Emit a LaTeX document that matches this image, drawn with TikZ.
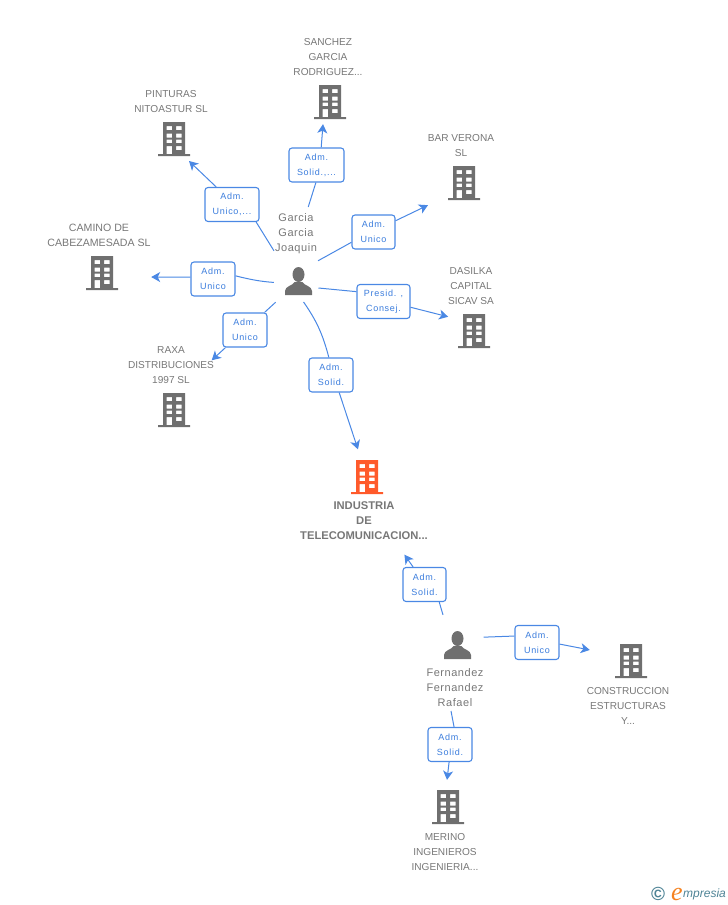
\documentclass[tikz,border=0pt]{standalone}
\usepackage{fontspec}
\setmainfont{Liberation Sans}
\newfontfamily\boxfont[LetterSpace=8]{Liberation Sans}
\newfontfamily\personfont[LetterSpace=5]{Liberation Sans}
\newfontfamily\logofont{Liberation Serif}
\usetikzlibrary{arrows.meta}
\definecolor{linkblue}{HTML}{4A88E4}
\definecolor{boxtext}{HTML}{3B7DDD}
\definecolor{icongray}{HTML}{6F6F6F}
\definecolor{textgray}{HTML}{777777}
\definecolor{iconred}{HTML}{FF5A2B}
\definecolor{logoteal}{HTML}{4F8496}
\definecolor{logoorange}{HTML}{F58220}
\tikzset{
  building/.style={inner sep=0pt, minimum width=32, minimum height=34, path picture={
    \fill[#1, even odd rule, shift={(path picture bounding box.center)}]
      (-11,-17) rectangle (11,15) (-16,15) rectangle (16,17)
      (-7.5,-13) rectangle (-2,-9) (2,-13) rectangle (7.5,-9)
      (-7.5,-5.5) rectangle (-2,-1.5) (2,-5.5) rectangle (7.5,-1.5)
      (-7.5,0.5) rectangle (-2,4) (2,0.5) rectangle (7.5,4)
      (-7.5,7) rectangle (-2,15) (2,7) rectangle (7.5,11);
  }},
  person/.style={circle, inner sep=0pt, minimum size=40, path picture={
    \fill[icongray, shift={(path picture bounding box.center)}]
      (0,-6.5) ellipse [x radius=6, y radius=7.5]
      (-13.5,14) -- (-13.5,10) .. controls (-13.5,5) and (-6,5) .. (-4,1) -- (4,1)
      .. controls (6,5) and (13.5,5) .. (13.5,10) -- (13.5,14) -- cycle;
  }},
  roleb/.style={draw=linkblue, line width=1.1pt, fill=white, rounded corners=3, inner sep=0pt,
    minimum height=34, minimum width=#1, align=center, text=boxtext,
    font=\boxfont\fontsize{9}{15}\selectfont},
  namel/.style={inner sep=0pt, align=center, text=textgray, font=\fontsize{10.1}{15}\selectfont},
  personl/.style={inner sep=0pt, align=center, text=textgray, font=\personfont\fontsize{11}{15}\selectfont},
  link/.style={draw=linkblue, line width=1pt},
  linkto/.style={link, -{Stealth[length=9, width=10, inset=2.5]}, shorten >=#1},
}
\begin{document}
\begin{tikzpicture}[x=1pt, y=-1pt]
    \useasboundingbox (0,0) rectangle (728,905);

    \node[person] (garcia) at (298.5,281) {};
    \node[person] (fernandez) at (457.5,645) {};
    \node[personl] (garcianame) at (296,234) {Garcia\\Garcia\\Joaquin};
    \node[personl] (fernandezname) at (455,688) {Fernandez\\Fernandez\\Rafael};

    \node[building=icongray] (sanchez) at (330,102) {};
    \node[building=icongray] (pinturas) at (174,139) {};
    \node[building=icongray] (verona) at (464,183) {};
    \node[building=icongray] (camino) at (102,273) {};
    \node[building=icongray] (dasilka) at (474,331) {};
    \node[building=icongray] (raxa) at (174,410) {};
    \node[building=iconred] (industria) at (367,477) {};
    \node[building=icongray] (construccion) at (631,661) {};
    \node[building=icongray] (merino) at (448,807) {};

    \node[namel] (sanchezname) at (328,57) {SANCHEZ\\GARCIA\\RODRIGUEZ...};
    \node[namel] (pinturasname) at (171,101.5) {PINTURAS\\NITOASTUR SL};
    \node[namel] (veronaname) at (461,145.5) {BAR VERONA\\SL};
    \node[namel, font=\fontsize{10.6}{15}\selectfont] (caminoname) at (99,235.5) {CAMINO DE\\CABEZAMESADA SL};
    \node[namel] (dasilkaname) at (471,286) {DASILKA\\CAPITAL\\SICAV SA};
    \node[namel] (raxaname) at (171,365) {RAXA\\DISTRIBUCIONES\\1997 SL};
    \node[namel, font=\bfseries\fontsize{11.2}{15}\selectfont] (industrianame) at (364,521) {INDUSTRIA\\DE\\TELECOMUNICACION...};
    \node[namel] (construccionname) at (628,706) {CONSTRUCCION\\ESTRUCTURAS\\Y...};
    \node[namel] (merinoname) at (445,852) {MERINO\\INGENIEROS\\INGENIERIA...};

    \node[roleb=55] (rolesanchez) at (316.5,165) {Adm.\\Solid.,...};
    \node[roleb=54] (rolepinturas) at (232,204.5) {Adm.\\Unico,...};
    \node[roleb=43] (roleverona) at (373.5,232) {Adm.\\Unico};
    \node[roleb=44] (rolecamino) at (213,279) {Adm.\\Unico};
    \node[roleb=53] (roledasilka) at (383.5,301.5) {Presid. ,\\Consej.};
    \node[roleb=44] (roleraxa) at (245,330) {Adm.\\Unico};
    \node[roleb=44] (roleindustria) at (331,375) {Adm.\\Solid.};
    \node[roleb=43] (rolefernandez) at (424.5,584.5) {Adm.\\Solid.};
    \node[roleb=44] (roleconstruccion) at (537,642.5) {Adm.\\Unico};
    \node[roleb=44] (rolemerino) at (450,744.5) {Adm.\\Solid.};

    \draw[link, shorten <=58] (garcia.112) -- (rolesanchez.-92);
    \draw[link, shorten <=8.5] (garcia.53) -- (roleverona.-155);
    \draw[link, shorten <=1] (garcia.-20) -- (roledasilka.160);
    \draw[link, shorten <=19] (garcia.136) -- (rolepinturas.-36);
    \draw[link, shorten <=4.5] (garcia.185) to[bend left=5] (rolecamino.8);
    \draw[link, shorten <=11] (garcia.-137) -- (roleraxa.42);
    \draw[link, shorten <=1.5] (garcia.-78) to[bend left=10] (roleindustria.97);
    \draw[link, shorten <=13.5] (fernandez.122) -- (rolefernandez.-50);
    \draw[link, shorten <=7.5] (fernandez.22) -- (roleconstruccion.164);
    \draw[link, shorten <=56] (fernandez.-147) -- (rolemerino.77);

    \draw[linkto=5] (rolesanchez.75) -- (sanchez.-111);
    \draw[linkto=22] (roleverona.27) -- (verona.-142);
    \draw[linkto=10] (roledasilka.-12) -- (dasilka.144);
    \draw[linkto=7] (rolepinturas.132) -- (pinturas.-60);
    \draw[linkto=33] (rolecamino.175) -- (camino.-14);
    \draw[linkto=48] (roleraxa.-138) -- (raxa.82);
    \draw[linkto=11] (roleindustria.-65) -- (industria.108);
    \draw[linkto=74] (rolefernandez.123) -- (industria.-107);
    \draw[linkto=25.5] (roleconstruccion.-4) -- (construccion.159);
    \draw[linkto=10] (rolemerino.-93) -- (merino.97);

    \node[inner sep=0pt, text=logoteal, font=\bfseries\fontsize{19}{19}\selectfont] (logomark) at (658,894) {©};
    \node[inner sep=0pt, text=logoorange, font=\logofont\itshape\fontsize{26}{26}\selectfont] (logoe) at (677,894) {e};
    \node[inner sep=0pt, anchor=west, text=logoteal, font=\itshape\fontsize{12}{12}\selectfont] (logotext) at (683,894) {mpresia};
  \end{tikzpicture}
\end{document}
